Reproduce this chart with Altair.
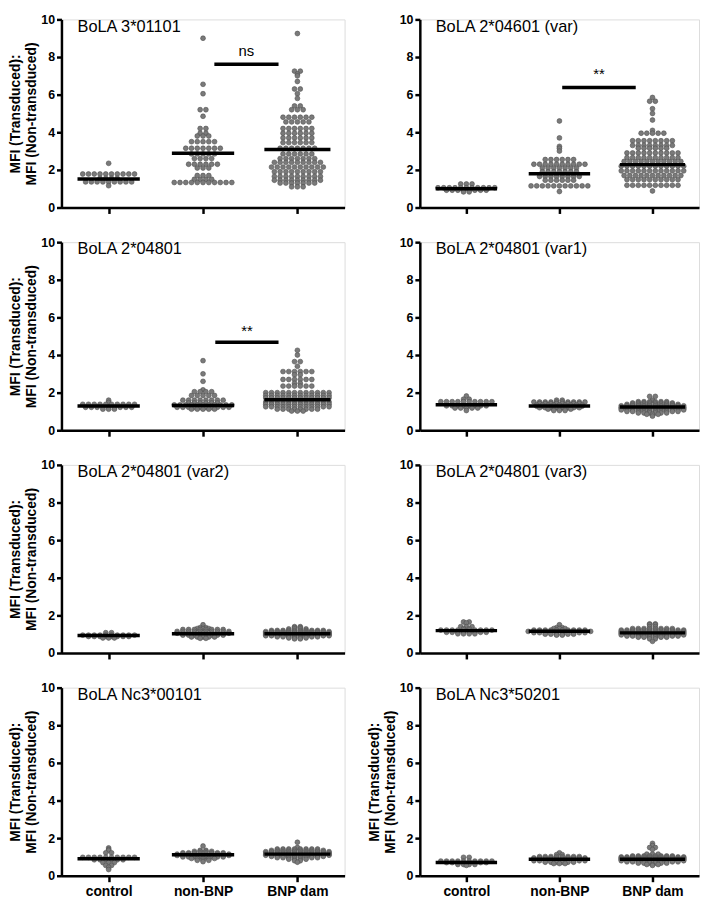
import altair as alt
import pandas as pd

CATEGORIES = ["control", "non-BNP", "BNP dam"]
TITLES = ["BoLA 3*01101", "BoLA 2*04601 (var)", "BoLA 2*04801", "BoLA 2*04801 (var1)",
          "BoLA 2*04801 (var2)", "BoLA 2*04801 (var3)", "BoLA Nc3*00101", "BoLA Nc3*50201"]
Y_TITLE = ["MFI (Transduced):", "MFI (Non-transduced)"]

# Each group: rows of dots as (value, number of dots in that row)
P1_CONTROL = [(2.35, 1), (1.78, 10), (1.55, 4), (1.36, 9), (1.16, 1)]
P1_NONBNP = [(9.0, 1), (6.55, 1), (6.05, 1), (5.2, 2), (4.85, 1), (4.2, 2), (3.95, 2), (3.8, 3),
             (3.5, 5), (3.15, 7), (2.85, 5), (2.6, 4), (2.3, 6), (2.1, 3), (1.7, 3), (1.5, 4), (1.33, 11)]
P1_BNP = [(9.25, 1), (7.25, 2), (7.1, 1), (7.0, 1), (6.7, 1), (6.3, 2), (6.05, 1), (5.8, 1), (5.4, 2),
          (5.2, 3), (4.8, 6), (4.55, 5), (4.2, 6), (3.95, 6), (3.7, 6), (3.45, 6), (3.15, 7), (2.85, 6),
          (2.6, 7), (2.4, 9), (2.15, 10), (1.9, 9), (1.65, 9), (1.45, 9), (1.3, 7), (1.1, 3)]

P2_CONTROL = [(1.25, 3), (1.05, 11), (0.92, 8), (0.83, 2)]
P2_NONBNP = [(4.6, 1), (3.7, 1), (3.25, 1), (3.15, 1), (3.0, 1), (2.55, 6), (2.3, 10), (2.1, 7),
             (1.9, 7), (1.65, 8), (1.45, 6), (1.15, 11), (0.85, 1)]
P2_BNP = [(5.85, 1), (5.65, 2), (5.25, 1), (5.0, 1), (4.65, 1), (4.1, 1), (3.95, 5), (3.55, 8),
          (3.3, 8), (3.15, 6), (2.9, 10), (2.65, 10), (2.45, 11), (2.2, 12), (1.95, 12), (1.7, 11),
          (1.48, 10), (1.18, 10), (0.88, 1)]

P3_CONTROL = [(1.6, 1), (1.48, 1), (1.38, 10), (1.22, 9), (1.12, 3)]
P3_NONBNP = [(3.7, 1), (3.0, 1), (2.6, 1), (2.15, 1), (2.05, 4), (1.85, 5), (1.6, 8), (1.45, 6),
             (1.35, 11), (1.22, 10), (1.12, 5)]
P3_BNP = [(4.25, 1), (4.0, 1), (3.65, 2), (3.4, 1), (3.12, 6), (2.95, 2), (2.7, 6), (2.5, 2), (2.35, 6),
          (2.0, 12), (1.85, 12), (1.72, 12), (1.5, 12), (1.38, 12), (1.25, 12), (1.12, 8), (1.02, 3)]

P4_CONTROL = [(1.82, 1), (1.65, 2), (1.52, 10), (1.3, 8), (1.18, 5), (1.05, 1)]
P4_NONBNP = [(1.6, 2), (1.5, 10), (1.42, 8), (1.35, 9), (1.28, 9), (1.2, 8), (1.12, 5), (1.05, 3)]
P4_BNP = [(1.8, 2), (1.6, 1), (1.52, 6), (1.45, 8), (1.38, 10), (1.3, 12), (1.22, 12), (1.15, 12),
          (1.08, 12), (1.0, 10), (0.92, 6), (0.85, 3), (0.75, 1)]

P5_CONTROL = [(1.08, 2), (0.95, 10), (0.88, 8), (0.8, 3)]
P5_NONBNP = [(1.5, 1), (1.35, 2), (1.3, 3), (1.25, 8), (1.15, 10), (1.05, 10), (0.95, 8), (0.85, 5), (0.78, 2)]
P5_BNP = [(1.4, 2), (1.35, 2), (1.28, 4), (1.2, 10), (1.14, 12), (1.08, 12), (1.02, 12), (0.97, 12),
          (0.92, 12), (0.86, 8), (0.8, 4), (0.75, 2)]

P6_CONTROL = [(1.65, 2), (1.6, 1), (1.4, 3), (1.3, 2), (1.22, 10), (1.1, 8), (1.02, 4)]
P6_NONBNP = [(1.5, 1), (1.35, 2), (1.3, 3), (1.22, 10), (1.15, 12), (1.08, 10), (1.0, 6), (0.95, 2)]
P6_BNP = [(1.55, 2), (1.5, 2), (1.4, 2), (1.3, 8), (1.22, 12), (1.15, 12), (1.08, 12), (1.02, 12),
          (0.96, 12), (0.9, 10), (0.84, 6), (0.75, 2), (0.62, 1)]

P7_CONTROL = [(1.48, 1), (1.4, 1), (1.35, 1), (1.22, 2), (0.98, 10), (0.85, 6), (0.7, 3),
              (0.55, 2), (0.45, 1), (0.33, 1)]
P7_NONBNP = [(1.58, 1), (1.35, 2), (1.3, 4), (1.22, 8), (1.15, 10), (1.08, 10), (1.0, 8), (0.92, 5),
             (0.82, 3), (0.75, 1)]
P7_BNP = [(1.78, 1), (1.5, 1), (1.42, 8), (1.35, 10), (1.28, 12), (1.21, 12), (1.15, 12), (1.09, 12),
          (1.03, 10), (0.96, 8), (0.88, 4), (0.8, 2), (0.72, 1)]

P8_CONTROL = [(0.98, 2), (0.78, 10), (0.7, 8), (0.6, 4), (0.55, 1)]
P8_NONBNP = [(1.22, 1), (1.12, 2), (1.02, 8), (0.95, 10), (0.88, 10), (0.8, 10), (0.72, 6), (0.65, 3)]
P8_BNP = [(1.72, 1), (1.6, 1), (1.5, 2), (1.4, 1), (1.15, 3), (1.05, 8), (1.0, 12), (0.95, 12), (0.9, 12),
          (0.85, 12), (0.8, 12), (0.74, 10), (0.67, 6), (0.6, 3), (0.55, 1)]

GROUPS = [
    [P1_CONTROL, P1_NONBNP, P1_BNP], [P2_CONTROL, P2_NONBNP, P2_BNP],
    [P3_CONTROL, P3_NONBNP, P3_BNP], [P4_CONTROL, P4_NONBNP, P4_BNP],
    [P5_CONTROL, P5_NONBNP, P5_BNP], [P6_CONTROL, P6_NONBNP, P6_BNP],
    [P7_CONTROL, P7_NONBNP, P7_BNP], [P8_CONTROL, P8_NONBNP, P8_BNP],
]

MEDIANS = [[1.52, 2.89, 3.08], [1.0, 1.79, 2.28], [1.29, 1.32, 1.62], [1.36, 1.29, 1.24],
           [0.93, 1.02, 1.02], [1.19, 1.16, 1.07], [0.9, 1.12, 1.15], [0.7, 0.88, 0.88]]
MEDIAN_HALF = [0.33, 0.33, 0.35]

# significance: panel -> (x start, x end, bar level, label, label level)
SIG = {0: (1.12, 1.80, 7.62, "ns", 8.3),
       1: (1.03, 1.82, 6.38, "**", 7.1),
       2: (1.13, 1.80, 4.68, "**", 5.3)}

STEP = 0.061  # horizontal spacing between neighbouring dots, in category units
FONT = "Liberation Sans"


def make_x(show_labels):
    return alt.X("x:Q", scale=alt.Scale(domain=[-0.5, 2.5], nice=False, zero=False),
                 axis=alt.Axis(values=[0, 1, 2], labels=show_labels,
                               labelExpr="['control','non-BNP','BNP dam'][datum.value]",
                               grid=False, tickSize=6, tickWidth=2.5, tickColor="black",
                               domainWidth=2.5, domainColor="black", labelFontSize=14,
                               labelFontWeight="bold", labelColor="black", labelPadding=3,
                               labelFont=FONT, title=None))


def make_y(with_title):
    kw = dict(values=[0, 2, 4, 6, 8, 10], grid=False, tickSize=5, tickWidth=2.5, tickColor="black",
              domainWidth=2.5, domainColor="black", labelFontSize=12.5, labelFontWeight="bold",
              labelColor="black", labelPadding=2, labelFont=FONT,
              titleFontSize=14, titleFontWeight="bold", titleColor="black", titleFont=FONT,
              titlePadding=2)
    if with_title:
        kw["title"] = Y_TITLE
    else:
        kw["title"] = None
    return alt.Y("y:Q", scale=alt.Scale(domain=[0, 10], nice=False, zero=True), axis=alt.Axis(**kw))


def panel(idx, width):
    show_labels = idx >= 6
    with_title = (idx % 2 == 0) or idx == 7
    X = make_x(show_labels)
    Y = make_y(with_title)

    dots = []
    for g, rows in enumerate(GROUPS[idx]):
        for v, n in rows:
            for i in range(n):
                dots.append({"x": g + (i - (n - 1) / 2) * STEP, "y": v})
    dots_df = pd.DataFrame(dots)

    med_df = pd.DataFrame([{"x": g - MEDIAN_HALF[g], "x2": g + MEDIAN_HALF[g], "y": m}
                           for g, m in enumerate(MEDIANS[idx])])

    layers = [
        alt.Chart(dots_df).mark_point(filled=True, fill="#7a7a7a", stroke="#505050",
                                      strokeWidth=0.6, size=24, opacity=1).encode(x=X, y=Y),
        alt.Chart(med_df).mark_rule(color="black", strokeWidth=3.5).encode(x=X, x2="x2:Q", y=Y),
        alt.Chart(pd.DataFrame([{"x": -0.33, "y": 9.62, "t": TITLES[idx]}])).mark_text(
            align="left", baseline="middle", fontSize=16.5, font=FONT, color="black").encode(
            x=X, y=Y, text="t:N"),
    ]
    if idx in SIG:
        x1, x2, lvl, lab, lablvl = SIG[idx]
        layers.append(alt.Chart(pd.DataFrame([{"x": x1, "x2": x2, "y": lvl}])).mark_rule(
            color="black", strokeWidth=3.5).encode(x=X, x2="x2:Q", y=Y))
        layers.append(alt.Chart(pd.DataFrame([{"x": (x1 + x2) / 2, "y": lablvl, "t": lab}])).mark_text(
            align="center", baseline="middle", fontSize=15, font=FONT, color="black").encode(
            x=X, y=Y, text="t:N"))
    return alt.layer(*layers).properties(width=width, height=190)


panels = [panel(i, 286 if i % 2 == 0 else 282) for i in range(8)]

chart = alt.concat(*panels, columns=2, spacing={"row": 20, "column": 21}).properties(
    padding={"left": 0, "top": 0, "right": 0, "bottom": 0}
).configure_view(stroke=None).configure(font=FONT)

chart.save("out.html", embed_options={"renderer": "svg", "actions": False})
